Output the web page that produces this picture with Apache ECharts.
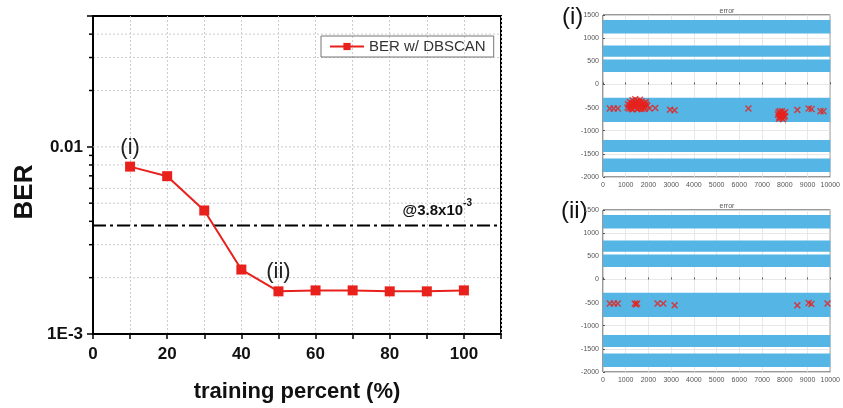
<!DOCTYPE html>
<html>
<head>
<meta charset="utf-8">
<script src="https://cdn.jsdelivr.net/npm/echarts@6/dist/echarts.min.js"></script>
<style>
  html, body { margin: 0; padding: 0; background: #fff; }
  #chart { width: 843px; height: 408px; }
</style>
</head>
<body>
<div id="chart"></div>
<script>
// main plot: BER vs training percent
var trainPct = [10, 20, 30, 40, 50, 60, 70, 80, 90, 100];
var berVals = [0.00784, 0.00697, 0.00457, 0.00221, 0.00169, 0.00171, 0.00171, 0.00169, 0.00169, 0.00171];
var fecLimit = 0.0038;
var minorTickVals = [0.002, 0.003, 0.004, 0.005, 0.006, 0.007, 0.008, 0.009, 0.02, 0.03, 0.04];
var gridLineVals = [0.002, 0.003, 0.005, 0.006, 0.008, 0.01, 0.02, 0.03, 0.04];

// error plots: blue symbol bands [low, high]
var bandLow = [1100, 600, 270, -810, -1460, -1890];
var bandHigh = [1390, 840, 540, -290, -1200, -1600];

// red x markers, plot (i)
var errI = [
  [300, -520], [470, -520], [650, -520],
  [1100, -430], [1180, -380], [1250, -470], [1300, -340], [1350, -420], [1400, -500],
  [1450, -390], [1500, -350], [1550, -460], [1600, -410], [1650, -510], [1700, -370],
  [1750, -450], [1800, -400], [1850, -480], [1900, -430], [1150, -520], [1300, -540],
  [1500, -530], [1700, -530], [1420, -320], [1620, -330], [1950, -460],
  [1080, -500], [1200, -450], [1280, -400], [1380, -460], [1480, -430], [1580, -380],
  [1680, -440], [1780, -500], [1880, -380], [1250, -520], [1550, -520], [1820, -530],
  [2050, -520], [2300, -510], [2950, -545], [3150, -560], [6400, -520],
  [7720, -600], [7800, -640], [7880, -580], [7950, -620], [8000, -680], [7760, -700],
  [7850, -720], [7920, -750], [8020, -600], [7700, -650], [7900, -660],
  [7780, -580], [7840, -680], [7960, -710], [7740, -740],
  [8550, -550], [9050, -520], [9180, -530], [9570, -580], [9700, -580]
];
// red x markers, plot (ii)
var errII = [
  [300, -520], [480, -520], [650, -520], [1400, -520], [1500, -520], [1450, -540],
  [2400, -520], [2650, -520], [3150, -560], [8550, -560], [9050, -510], [9170, -530], [9880, -520]
];

var FONT = 'Liberation Sans';
var crossPath = 'path://M0,1.5L1.5,0L5,3.5L8.5,0L10,1.5L6.5,5L10,8.5L8.5,10L5,6.5L1.5,10L0,8.5L3.5,5Z';

var chart = echarts.init(document.getElementById('chart'));

function bandSeries(idx) {
  return {
    type: 'custom',
    xAxisIndex: idx, yAxisIndex: idx,
    silent: true,
    data: bandLow.map(function (v, i) { return [v, bandHigh[i]]; }),
    renderItem: function (params, api) {
      var p1 = api.coord([0, api.value(1)]);
      var p2 = api.coord([10000, api.value(0)]);
      return {
        type: 'rect',
        shape: { x: p1[0], y: p1[1], width: p2[0] - p1[0], height: p2[1] - p1[1] },
        style: { fill: '#55b6e6' }
      };
    }
  };
}

function errSeries(idx, pts) {
  return {
    type: 'scatter',
    xAxisIndex: idx, yAxisIndex: idx,
    symbol: crossPath,
    symbolSize: 7,
    itemStyle: { color: '#e8201c' },
    data: pts,
    z: 5
  };
}

function plainNum(v) { return String(v); }

function smallX(idx) {
  return {
    gridIndex: idx, type: 'value', min: 0, max: 10000, interval: 1000,
    axisLine: { show: false },
    axisTick: { inside: true, length: 2, lineStyle: { color: '#555' } },
    axisLabel: { fontFamily: FONT, fontSize: 7, color: '#555', margin: 5, formatter: plainNum },
    splitLine: { show: true, lineStyle: { color: '#e2e2e2', width: 0.8 } }
  };
}
function smallY(idx) {
  return {
    gridIndex: idx, type: 'value', min: -2000, max: 1500, interval: 500,
    axisLine: { show: false },
    axisTick: { inside: true, length: 2, lineStyle: { color: '#555' } },
    axisLabel: { fontFamily: FONT, fontSize: 7, color: '#555', margin: 4, formatter: plainNum },
    splitLine: { show: true, lineStyle: { color: '#e2e2e2', width: 0.8 } }
  };
}

var mainData = berVals.map(function (v, i) {
  var item = { value: [trainPct[i], v] };
  if (i === 0 || i === 4) {
    item.label = {
      show: true, position: 'top', distance: 3,
      formatter: i === 0 ? '(i)' : '(ii)',
      fontFamily: FONT, fontSize: 22, color: '#222'
    };
  }
  return item;
});

var option = {
  animation: false,
  backgroundColor: '#fff',
  title: [
    { text: 'error', left: 722, top: 3, textAlign: 'center',
      textStyle: { fontFamily: FONT, fontSize: 7, fontWeight: 'normal', color: '#555' } },
    { text: 'error', left: 722, top: 198, textAlign: 'center',
      textStyle: { fontFamily: FONT, fontSize: 7, fontWeight: 'normal', color: '#555' } }
  ],
  legend: {
    data: ['BER w/ DBSCAN'],
    left: 321, top: 36,
    itemWidth: 34, itemHeight: 9, itemGap: 4,
    padding: [3, 8, 3, 8],
    borderColor: '#777', borderWidth: 1,
    textStyle: { fontFamily: FONT, fontSize: 15, color: '#333' }
  },
  graphic: [
    { type: 'text', x: 25, y: 192, rotation: Math.PI / 2,
      style: { text: 'BER', font: 'bold 26px "Liberation Sans"', fill: '#111', align: 'center', verticalAlign: 'middle' } },
    { type: 'text', left: 562, top: 5, style: { text: '(i)', font: '24px "Liberation Sans"', fill: '#111' } },
    { type: 'text', left: 561, top: 199, style: { text: '(ii)', font: '24px "Liberation Sans"', fill: '#111' } }
  ],
  grid: [
    { left: 93, top: 16, width: 408, height: 321, show: true, borderColor: '#000', borderWidth: 2, backgroundColor: '#fff' },
    { left: 603, top: 15, width: 234, height: 162, show: true, borderColor: '#333', borderWidth: 1 },
    { left: 603, top: 210, width: 234, height: 162, show: true, borderColor: '#333', borderWidth: 1 }
  ],
  xAxis: [
    {
      gridIndex: 0, type: 'value', min: 0, max: 110, interval: 10,
      name: 'training percent (%)', nameLocation: 'middle', nameGap: 47,
      nameTextStyle: { fontFamily: FONT, fontSize: 22, fontWeight: 'bold', color: '#111' },
      axisLine: { lineStyle: { color: '#000', width: 2 } },
      axisTick: { length: 5, lineStyle: { color: '#000', width: 1.5 } },
      axisLabel: {
        fontFamily: FONT, fontSize: 17, fontWeight: 'bold', color: '#111', margin: 12,
        formatter: function (v) { return (v % 20 === 0 && v <= 100) ? String(v) : ''; }
      },
      splitLine: { show: true, lineStyle: { color: '#cccccc', type: [2, 2], width: 1 } }
    },
    smallX(1), smallX(2)
  ],
  yAxis: [
    {
      gridIndex: 0, type: 'log', logBase: 10, min: 0.001, max: 0.05,
      axisLine: { lineStyle: { color: '#000', width: 2 } },
      axisTick: { length: 6, lineStyle: { color: '#000', width: 1.5 } },
      axisLabel: {
        fontFamily: FONT, fontSize: 17, fontWeight: 'bold', color: '#111', margin: 10,
        formatter: function (v) {
          if (Math.abs(v - 0.01) < 1e-6) return '0.01';
          if (Math.abs(v - 0.001) < 1e-7) return '1E-3';
          return '';
        }
      },
      splitLine: { show: false }
    },
    smallY(1), smallY(2)
  ],
  series: [
    {
      name: 'BER w/ DBSCAN',
      type: 'line',
      xAxisIndex: 0, yAxisIndex: 0,
      data: mainData,
      symbol: 'rect', symbolSize: 10,
      itemStyle: { color: '#e8211c' },
      lineStyle: { color: '#e8211c', width: 2 },
      z: 6
    },
    {
      // dotted log minor grid lines
      type: 'custom', xAxisIndex: 0, yAxisIndex: 0, silent: true, z: 1,
      data: gridLineVals.map(function (v) { return [0, v]; }),
      renderItem: function (params, api) {
        var a = api.coord([0, api.value(1)]);
        var b = api.coord([110, api.value(1)]);
        return {
          type: 'line',
          shape: { x1: a[0], y1: a[1], x2: b[0], y2: b[1] },
          style: { stroke: '#cccccc', lineWidth: 1, lineDash: [2, 2] }
        };
      }
    },
    {
      // FEC threshold line with label
      type: 'custom', xAxisIndex: 0, yAxisIndex: 0, silent: true, z: 4,
      data: [[0, fecLimit]],
      renderItem: function (params, api) {
        var a = api.coord([0, api.value(1)]);
        var b = api.coord([110, api.value(1)]);
        return {
          type: 'group',
          children: [
            {
              type: 'line',
              shape: { x1: a[0], y1: a[1], x2: b[0], y2: b[1] },
              style: { stroke: '#000', lineWidth: 2.2, lineDash: [13, 4, 3, 4] }
            },
            {
              type: 'text',
              x: b[0] - 29, y: a[1] - 7,
              style: {
                text: '{b|@3.8x10}{s|-3}',
                align: 'right', verticalAlign: 'bottom',
                rich: {
                  b: { fontFamily: FONT, fontSize: 15, fontWeight: 'bold', fill: '#111', verticalAlign: 'bottom', lineHeight: 20 },
                  s: { fontFamily: FONT, fontSize: 10, fontWeight: 'bold', fill: '#111', verticalAlign: 'top', lineHeight: 20 }
                }
              }
            }
          ]
        };
      }
    },
    {
      // minor ticks on the log axis
      type: 'custom', xAxisIndex: 0, yAxisIndex: 0, silent: true, clip: false,
      data: minorTickVals.map(function (v) { return [0, v]; }),
      renderItem: function (params, api) {
        var p = api.coord([0, api.value(1)]);
        return {
          type: 'line',
          shape: { x1: p[0] - 4, y1: p[1], x2: p[0] + 1, y2: p[1] },
          style: { stroke: '#000', lineWidth: 1.5 }
        };
      }
    },
    bandSeries(1), errSeries(1, errI),
    bandSeries(2), errSeries(2, errII)
  ]
};

chart.setOption(option);
</script>
</body>
</html>
